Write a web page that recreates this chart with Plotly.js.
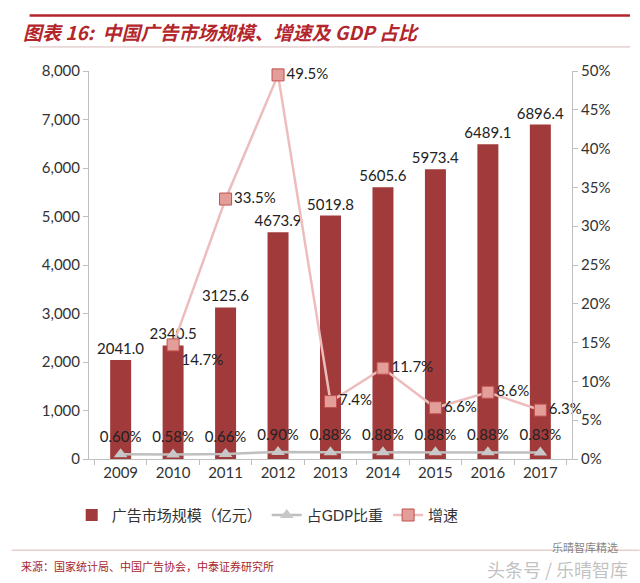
<!DOCTYPE html>
<html>
<head>
<meta charset="utf-8">
<script src="https://cdn.plot.ly/plotly-3.0.1.min.js"></script>
<style>body{margin:0;padding:0;background:#fff;} #chart{width:640px;height:583px;}</style>
</head>
<body>
<div id="chart"></div>
<script>
const years = ['2009','2010','2011','2012','2013','2014','2015','2016','2017'];
const marketSize = [2041.0, 2340.5, 3125.6, 4673.9, 5019.8, 5605.6, 5973.4, 6489.1, 6896.4];
const gdpShare = [0.0060, 0.0058, 0.0066, 0.0090, 0.0088, 0.0088, 0.0088, 0.0088, 0.0083];
const growthYears = ['2010','2011','2012','2013','2014','2015','2016','2017'];
const growth = [0.147, 0.335, 0.495, 0.074, 0.117, 0.066, 0.086, 0.063];

const font = 'Lato, "Noto Sans CJK SC", sans-serif';

const traces = [
  {
    type: 'bar', name: '广告市场规模（亿元）', x: years, y: marketSize,
    marker: {color: '#A13A3A'}, width: 0.4,
    text: marketSize.map(v => v.toFixed(1)), textposition: 'outside', constraintext: 'none',
    textfont: {family: font, size: 15, color: '#222'}, cliponaxis: false,
    hoverinfo: 'x+y'
  },
  {
    type: 'scatter', mode: 'lines+markers+text', name: '占GDP比重', x: years, y: gdpShare, yaxis: 'y2',
    line: {color: '#BFBFBF', width: 2.5},
    marker: {symbol: 'triangle-up', size: 12, color: '#C8C8C8'},
    text: gdpShare.map(v => (v*100).toFixed(2) + '%'), textposition: 'top center',
    textfont: {family: font, size: 15, color: '#222'}, cliponaxis: false
  },
  {
    type: 'scatter', mode: 'lines+markers+text', name: '增速', x: growthYears, y: growth, yaxis: 'y2',
    line: {color: '#EDBDBD', width: 2.5},
    marker: {symbol: 'square', size: 12, color: '#E39E9A', line: {color: '#C0504D', width: 1}},
    text: growth.map(v => (v*100).toFixed(1) + '%'),
    textposition: growth.map((v, i) => i === 0 ? 'bottom right' : 'middle right'),
    textfont: {family: font, size: 15, color: '#222'}, cliponaxis: false
  }
];

const layout = {
  width: 640, height: 583,
  margin: {l: 89, r: 68, t: 71, b: 124},
  paper_bgcolor: '#fff', plot_bgcolor: '#fff',
  font: {family: font, size: 15, color: '#333'},
  showlegend: true,
  legend: {orientation: 'h', x: 0.37, xanchor: 'center', y: -0.145, yanchor: 'middle',
           font: {family: font, size: 15, color: '#333'}, traceorder: 'normal'},
  xaxis: {
    type: 'category', showline: true, linecolor: '#BFBFBF', linewidth: 1,
    ticks: 'outside', tickson: 'boundaries', ticklen: 5, tickcolor: '#BFBFBF',
    tickfont: {family: font, size: 15, color: '#333'}, showgrid: false, zeroline: false
  },
  yaxis: {
    range: [0, 8000], dtick: 1000, tickformat: ',d', showgrid: false, zeroline: false,
    showline: true, linecolor: '#BFBFBF', ticks: 'outside', ticklen: 5, tickcolor: '#BFBFBF',
    tickfont: {family: font, size: 15, color: '#333'}
  },
  yaxis2: {
    overlaying: 'y', side: 'right', range: [0, 0.5], dtick: 0.05, tickformat: '.0%',
    showgrid: false, zeroline: false, showline: true, linecolor: '#BFBFBF',
    ticks: 'outside', ticklen: 5, tickcolor: '#BFBFBF',
    tickfont: {family: font, size: 15, color: '#333'}
  },
  shapes: [
    {type: 'line', xref: 'paper', yref: 'paper', x0: -0.123, x1: 1.12, y0: 1.143, y1: 1.143,
     line: {color: '#B3262B', width: 2.5}},
    {type: 'line', xref: 'paper', yref: 'paper', x0: -0.123, x1: 1.12, y0: 1.062, y1: 1.062,
     line: {color: '#D9B8B8', width: 1}},
    {type: 'line', xref: 'paper', yref: 'paper', x0: -0.16, x1: 1.14, y0: -0.235, y1: -0.235,
     line: {color: '#D9B8B8', width: 1}}
  ],
  annotations: [
    {xref: 'paper', yref: 'paper', x: -0.14, y: 1.103, xanchor: 'left', yanchor: 'middle', showarrow: false,
     text: '<b><i>图表 16:  中国广告市场规模、增速及 GDP 占比</i></b>',
     font: {family: '"Noto Sans CJK SC", sans-serif', size: 19, color: '#B3262B'}},
    {xref: 'paper', yref: 'paper', x: -0.145, y: -0.275, xanchor: 'left', yanchor: 'middle', showarrow: false,
     text: '来源：国家统计局、中国广告协会，中泰证券研究所',
     font: {family: '"Noto Sans CJK SC", sans-serif', size: 11, color: '#A8262B'}},
    {xref: 'paper', yref: 'paper', x: 1.12, y: -0.284, xanchor: 'right', yanchor: 'middle', showarrow: false,
     text: '头条号 / 乐晴智库',
     font: {family: '"Noto Sans CJK SC", sans-serif', size: 18, color: 'rgba(140,140,140,0.55)'}},
    {xref: 'paper', yref: 'paper', x: 1.1, y: -0.226, xanchor: 'right', yanchor: 'middle', showarrow: false,
     text: '乐晴智库精选',
     font: {family: '"Noto Sans CJK SC", sans-serif', size: 11, color: 'rgba(90,90,90,0.75)'}}
  ]
};

Plotly.newPlot('chart', traces, layout, {displayModeBar: false, staticPlot: true});
</script>
</body>
</html>
